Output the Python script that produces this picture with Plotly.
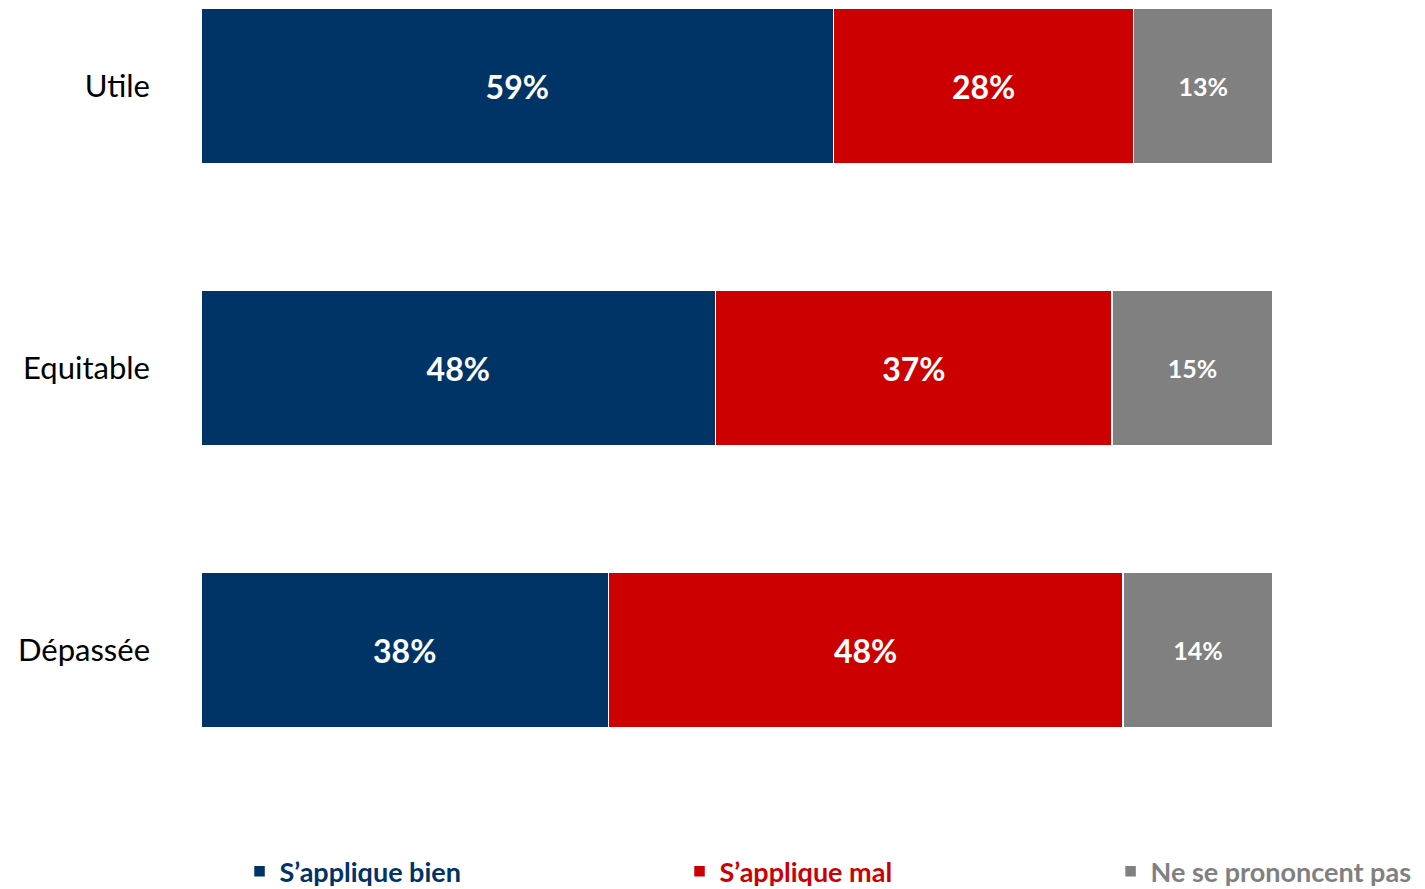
import plotly.graph_objects as go

categories = ["Utile", "Equitable", "Dépassée"]
bien = [59, 48, 38]
mal = [28, 37, 48]
nsp = [13, 15, 14]

series = [
    ("S’applique bien", bien, "#003366", 32, "legend", 0.1634),
    ("S’applique mal", mal, "#CC0000", 32, "legend2", 0.4739),
    ("Ne se prononcent pas", nsp, "#808080", 25, "legend3", 0.7781),
]

fig = go.Figure()
legends = {}
for name, vals, color, fs, lg, lx in series:
    fig.add_trace(go.Bar(
        y=categories, x=vals, orientation="h",
        name=f"<span style='color:{color}'>{name}</span>",
        marker=dict(color=color, line=dict(color="white", width=1.5)),
        width=0.55,
        text=[f"{v}%" for v in vals], texttemplate="<b>%{text}</b>",
        textposition="inside", insidetextanchor="middle",
        textfont=dict(color="white", size=fs, family="Lato"),
        hoverinfo="skip",
        legend=lg,
    ))
    legends[lg] = dict(
        orientation="h", xref="container", yref="container",
        x=lx, xanchor="left", y=0.0195, yanchor="middle",
        font=dict(size=27, family="Lato", weight="bold"),
        itemwidth=30, bgcolor="rgba(0,0,0,0)",
    )

fig.update_layout(
    barmode="stack",
    width=1417, height=881,
    margin=dict(l=193, r=152, t=0, b=101),
    plot_bgcolor="white", paper_bgcolor="white",
    font=dict(family="Lato", color="black"),
    xaxis=dict(range=[0, 100], visible=False),
    yaxis=dict(
        categoryorder="array", categoryarray=categories,
        range=[2.489, -0.2766],
        showgrid=False, zeroline=False, showline=False,
        ticks="", ticklabelstandoff=50,
        tickfont=dict(size=31, family="Lato", color="black"),
    ),
    showlegend=True,
    **legends,
)

fig.write_html("out.html")
